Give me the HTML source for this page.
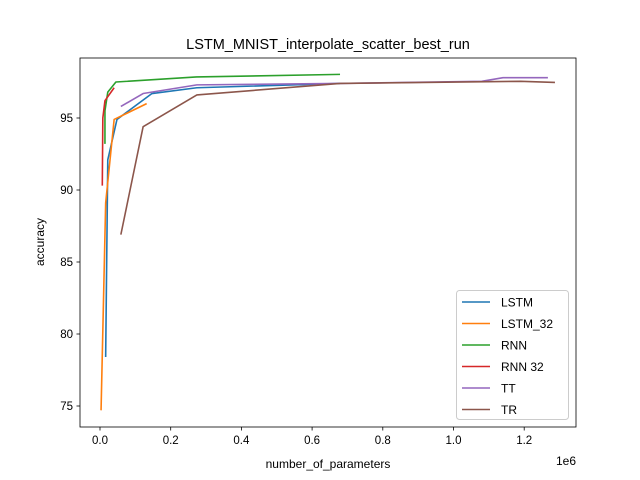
<!DOCTYPE html>
<html><head><meta charset="utf-8"><style>body{margin:0;background:#fff}svg{display:block;font-family:"Liberation Sans","DejaVu Sans",sans-serif}</style></head>
<body>
<svg id="c" width="640" height="480"></svg>
<script>
const xTicks=[0,0.2,0.4,0.6,0.8,1.0,1.2];
const xTickLabels=["0.0","0.2","0.4","0.6","0.8","1.0","1.2"];
const yTicks=[75,80,85,90,95];
const seriesNames=["LSTM","LSTM_32","RNN","RNN 32","TT","TR"];
const seriesColors=["#1f77b4","#ff7f0e","#2ca02c","#d62728","#9467bd","#8c564b"];
const lstmX=[16000,22000,48000,147000,274000,679000];
const lstmY=[78.4,92.1,94.9,96.7,97.1,97.4];
const lstm32X=[3000,16000,40000,132000];
const lstm32Y=[74.7,89.1,94.9,96.0];
const rnnX=[14000,14000,22000,45000,273000,679000];
const rnnY=[93.2,95.5,96.8,97.5,97.85,98.03];
const rnn32X=[6500,8000,14000,40000];
const rnn32Y=[90.3,95.0,96.2,97.1];
const ttX=[59000,122000,274000,679000,1080000,1140000,1267000];
const ttY=[95.8,96.7,97.3,97.4,97.55,97.8,97.8];
const trX=[59000,122000,274000,679000,1190000,1287000];
const trY=[86.9,94.4,96.6,97.4,97.55,97.47];
const allX=[lstmX,lstm32X,rnnX,rnn32X,ttX,trX];
const allY=[lstmY,lstm32Y,rnnY,rnn32Y,ttY,trY];

const NS="http://www.w3.org/2000/svg";
const svg=document.getElementById('c');
const L=80,R=576,T=58,B=427;
function xs(v){return 100+v*353.5/1e6;}
function ys(v){return 406-(v-75)*14.4;}
function mk(tag,attrs,parent){const e=document.createElementNS(NS,tag);for(const k in attrs)e.setAttribute(k,attrs[k]);(parent||svg).appendChild(e);return e;}

const title=mk('text',{x:328,y:49,'text-anchor':'middle','font-size':14.5});
title.textContent="LSTM_MNIST_interpolate_scatter_best_run";



xTicks.forEach((t,i)=>{const x=xs(t*1e6);
 const l=mk('line',{x1:x,x2:x,y1:B,y2:B+3.5,stroke:'#000','stroke-width':0.8});
 
 
 const tx=mk('text',{x:x,y:B+17,'text-anchor':'middle','font-size':11.5});tx.textContent=xTickLabels[i];
 
 
});
yTicks.forEach(t=>{const y=ys(t);
 const l=mk('line',{x1:L-3.5,x2:L,y1:y,y2:y,stroke:'#000','stroke-width':0.8});
 
 
 const tx=mk('text',{x:L-7,y:y+4,'text-anchor':'end','font-size':11.5});tx.textContent=t;
 
 
});
const xl=mk('text',{x:328,y:468,'text-anchor':'middle','font-size':12});xl.textContent="number_of_parameters";


const yl=mk('text',{x:44,y:242,'text-anchor':'middle','font-size':12,transform:'rotate(-90 44 242)'});yl.textContent="accuracy";


const ex=mk('text',{x:576,y:465,'text-anchor':'end','font-size':12});ex.textContent="1e6";



allX.forEach((xa,i)=>{
 const p=mk('polyline',{points:xa.map((x,j)=>xs(x)+','+ys(allY[i][j])).join(' '),fill:'none',stroke:seriesColors[i],'stroke-width':1.6,'stroke-linejoin':'round'});
 
 
});

const frame=mk('rect',{x:L,y:T,width:R-L,height:B-T,fill:'none',stroke:'#000','stroke-width':0.8});



const lg=mk('g',{});


mk('rect',{x:456.5,y:290.5,width:112,height:129,rx:3,fill:'#fff',stroke:'#ccc','stroke-width':1},lg);
seriesNames.forEach((n,i)=>{const y=302+i*21.5;
 const e=mk('g',{},lg);
 
 
 mk('line',{x1:462,x2:490,y1:y,y2:y,stroke:seriesColors[i],'stroke-width':1.6},e);
 const t=mk('text',{x:501,y:y+4.5,'font-size':12},e);t.textContent=n;
});
</script>
</body></html>
